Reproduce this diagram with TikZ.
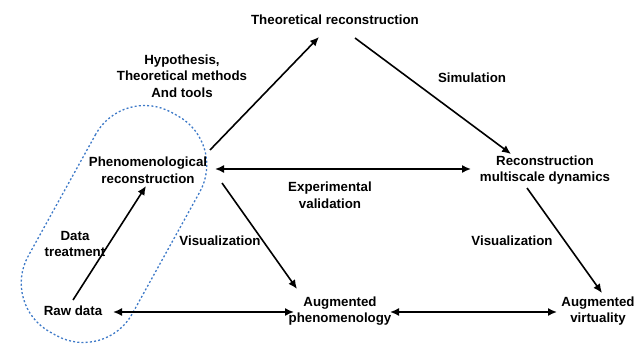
\documentclass[tikz,border=0pt]{standalone}
\usepackage{fontspec}
\setmainfont{Liberation Sans}
\usetikzlibrary{arrows.meta}
\definecolor{loopblue}{RGB}{62,122,200}
\tikzset{
  lbl/.style={font=\fontsize{13.3}{16.5}\selectfont\bfseries, align=center, inner sep=0pt},
  arr/.style={line width=1.6pt, -{Latex[length=9pt,width=8pt]}},
  darr/.style={line width=1.6pt, {Latex[length=9pt,width=8pt]}-{Latex[length=9pt,width=8pt]}},
  loopbox/.style={draw=loopblue, line width=1.3pt, dash pattern=on 2pt off 2.2pt, rounded corners=56pt, minimum width=251pt, minimum height=119pt, rotate=61, inner sep=0pt}
}
\begin{document}
\begin{tikzpicture}[x=1pt,y=-1pt]
\useasboundingbox (0,0) rectangle (637,350);
\node[loopbox] (loop) at (114,224) {};
\node[lbl] (theo) at (335,20) {Theoretical reconstruction};
\node[lbl] (hyp) at (182,76) {Hypothesis,\\Theoretical methods\\And tools};
\node[lbl] (sim) at (472,78) {Simulation};
\node[lbl] (phen) at (148,170) {Phenomenological\\reconstruction};
\node[lbl] (recon) at (545,170) {Reconstruction\\multiscale dynamics};
\node[lbl] (exp) at (330,195) {Experimental\\validation};
\node[lbl] (dt) at (75,244) {Data\\treatment};
\node[lbl] (visl) at (220,241) {Visualization};
\node[lbl] (visr) at (512,241) {Visualization};
\node[lbl] (raw) at (73,311) {Raw data};
\node[lbl] (augp) at (340,311) {Augmented\\phenomenology};
\node[lbl] (augv) at (598,311) {Augmented\\virtuality};
\coordinate (a1s) at (210,150); \coordinate (a1e) at (319,37);
\draw[arr] (a1s) -- (a1e);
\coordinate (a2s) at (355,38); \coordinate (a2e) at (511,154);
\draw[arr] (a2s) -- (a2e);
\coordinate (a3s) at (215,169); \coordinate (a3e) at (471,169);
\draw[darr] (a3s) -- (a3e);
\coordinate (a4s) at (73,300); \coordinate (a4e) at (146,186);
\draw[arr] (a4s) -- (a4e);
\coordinate (a5s) at (222,183); \coordinate (a5e) at (297,289);
\draw[arr] (a5s) -- (a5e);
\coordinate (a6s) at (527,188); \coordinate (a6e) at (602,293);
\draw[arr] (a6s) -- (a6e);
\coordinate (a7s) at (113,312); \coordinate (a7e) at (294,312);
\draw[darr] (a7s) -- (a7e);
\coordinate (a8s) at (390,312); \coordinate (a8e) at (557,312);
\draw[darr] (a8s) -- (a8e);
\end{tikzpicture}
\end{document}
